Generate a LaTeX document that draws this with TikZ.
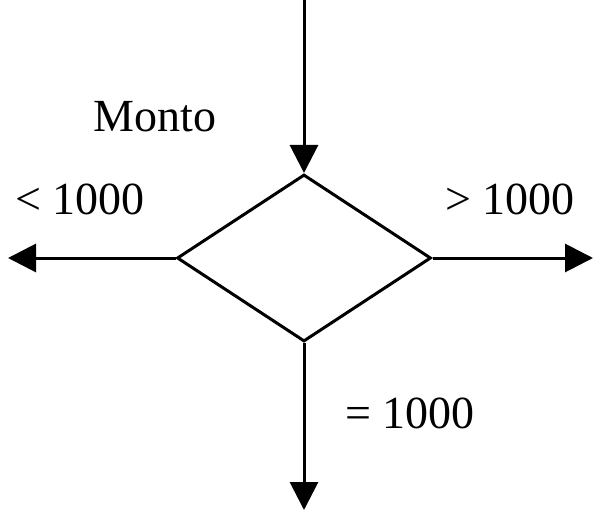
\documentclass[tikz,border=0pt]{standalone}
\usepackage{fontspec}
\setmainfont{Liberation Serif}
\usetikzlibrary{shapes.geometric,arrows.meta}
\begin{document}
\begin{tikzpicture}[x=1pt, y=-1pt, line width=3pt,
		flecha/.style={-{Triangle[length=28pt, width=28pt]}},
		etiqueta/.style={font=\fontsize{46}{55}\selectfont}]
		\useasboundingbox (0, 0) rectangle (597, 513);
		\node[draw, diamond, inner sep=0pt, minimum width=254pt, minimum height=167pt] (rombo) at (304, 258) {};
		\coordinate (entrada) at (304, 0);
		\coordinate (izq) at (8, 258);
		\coordinate (der) at (593, 258);
		\coordinate (abajo) at (304, 510);
		\draw[flecha] (entrada) -- (rombo.north);
		\draw[flecha] (rombo.west) -- (izq);
		\draw[flecha] (rombo.east) -- (der);
		\draw[flecha] (rombo.south) -- (abajo);
		\node[etiqueta] (monto) at (155, 117) {Monto};
		\node[etiqueta] (menor) at (80, 199) {< 1000};
		\node[etiqueta] (mayor) at (510, 199) {> 1000};
		\node[etiqueta] (igual) at (410, 413) {= 1000};
	\end{tikzpicture}
\end{document}
